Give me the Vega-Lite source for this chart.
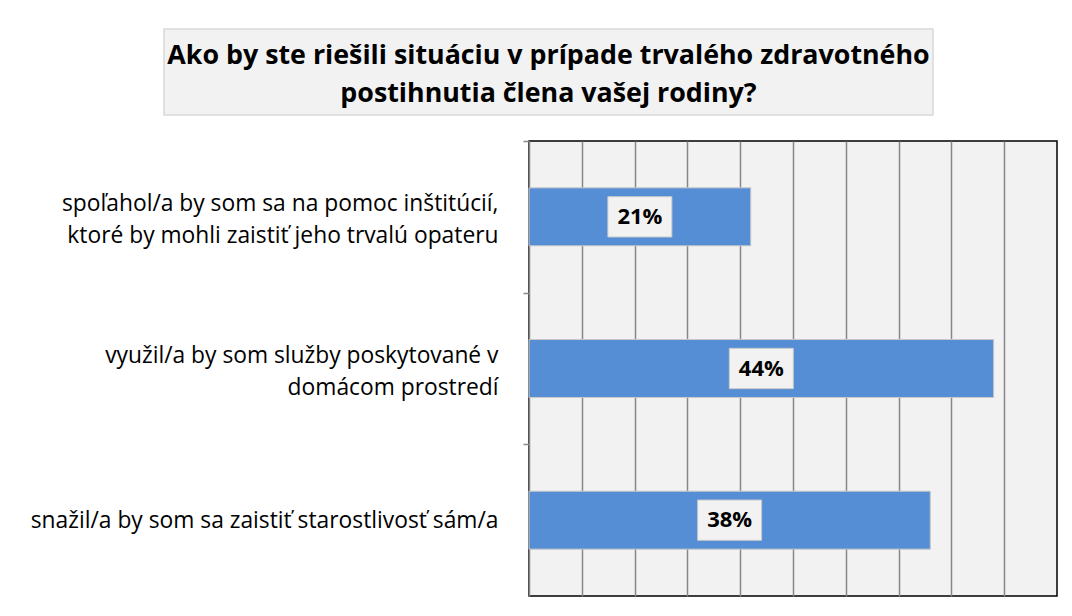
{
  "$schema": "https://vega.github.io/schema/vega-lite/v6.json",
  "background": "white",
  "padding": {"left": 29, "top": 28, "right": 0, "bottom": 0},
  "config": {"font": "Open Sans", "view": {"stroke": null}},
  "bounds": "flush",
  "spacing": 26,
  "vconcat": [
    {
      "width": 769,
      "height": 86,
      "view": {"fill": "#f2f2f2", "stroke": "#d9d9d9", "strokeWidth": 1.5},
      "data": {"values": [{}]},
      "mark": {"type": "text", "font": "Open Sans", "fontWeight": "bold", "fontSize": 26.8, "color": "#000", "lineHeight": 38, "baseline": "middle", "dy": -16},
      "encoding": {"text": {"value": ["Ako by ste riešili situáciu v prípade trvalého zdravotného", "postihnutia člena vašej rodiny?"]}}
    },
    {
      "bounds": "flush",
      "spacing": 0,
      "hconcat": [
        {
          "width": 365,
          "height": 455,
          "view": {"stroke": null, "fill": null},
          "data": {"values": []},
          "mark": {"type": "text"},
          "encoding": {}
        },
        {
          "width": 528,
          "height": 455,
          "view": {"fill": "#f2f2f2", "stroke": "#000", "strokeWidth": 1.5},
          "data": {"values": [
            {"label": "spoľahol/a by som sa na pomoc inštitúcií,\nktoré by mohli zaistiť jeho trvalú opateru", "value": 0.21},
            {"label": "využil/a by som služby poskytované v\ndomácom prostredí", "value": 0.44},
            {"label": "snažil/a by som sa zaistiť starostlivosť sám/a", "value": 0.38}
          ]},
          "resolve": {"scale": {"x": "independent"}},
          "layer": [
            {
              "mark": {"type": "bar", "color": "#558ed5", "stroke": "#c8c8c8", "strokeWidth": 1},
              "encoding": {
                "y": {"field": "label", "type": "nominal", "sort": null,
                  "scale": {"paddingInner": 0.618, "paddingOuter": 0.309},
                  "axis": {"title": null, "domainColor": "#888", "domainWidth": 1.5, "tickColor": "#888", "tickWidth": 1.5, "tickSize": 6, "tickOffset": -75.8, "labelFontSize": 22.8, "labelFont": "Open Sans", "labelColor": "#000", "labelPadding": 25, "labelLimit": 0, "labelLineHeight": 32, "labelAlign": "right", "labelBaseline": "middle",
                    "labelOffset": {"condition": {"test": "indexof(datum.label, '\\n') >= 0", "value": 62.8}, "value": 75.8},
                    "labelExpr": "split(datum.label, '\\n')"}},
                "x": {"field": "value", "type": "quantitative",
                  "scale": {"domain": [0, 0.5], "nice": false, "zero": true},
                  "axis": {"values": [0.05, 0.1, 0.15, 0.2, 0.25, 0.3, 0.35, 0.4, 0.45], "grid": true, "gridColor": "#888", "gridWidth": 1.5, "labels": false, "ticks": false, "domain": false, "title": null}}
              }
            },
            {
              "mark": {"type": "point", "shape": "M-1,-0.63H1V0.63H-1Z", "size": 4096, "filled": true, "fill": "#f2f2f2", "stroke": "#c8c8c8", "strokeWidth": 1, "opacity": 1},
              "encoding": {
                "y": {"field": "label", "type": "nominal", "sort": null},
                "x": {"field": "value", "type": "quantitative", "scale": {"domain": [0, 1], "nice": false, "zero": true}, "axis": null}
              }
            },
            {
              "mark": {"type": "text", "font": "Open Sans", "fontWeight": "bold", "fontSize": 22, "color": "#000", "baseline": "middle"},
              "encoding": {
                "y": {"field": "label", "type": "nominal", "sort": null},
                "x": {"field": "value", "type": "quantitative", "scale": {"domain": [0, 1], "nice": false, "zero": true}, "axis": null},
                "text": {"field": "value", "type": "quantitative", "format": ".0%"}
              }
            }
          ]
        }
      ]
    }
  ]
}
